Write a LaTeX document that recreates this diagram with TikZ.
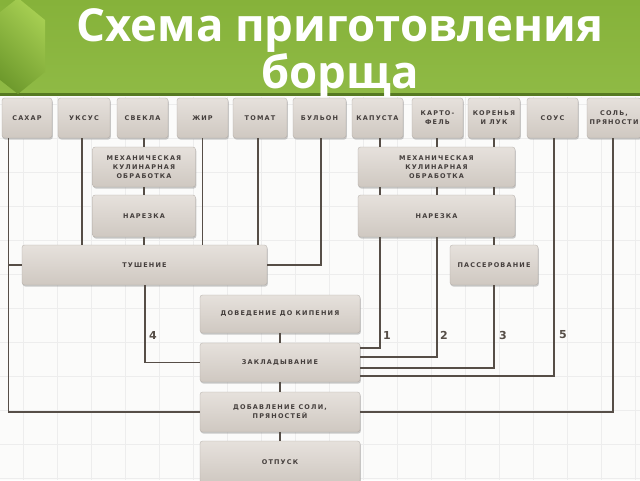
\documentclass[tikz,border=0pt]{standalone}
\usepackage{fontspec}
\usetikzlibrary{shadows,calc}
\newfontfamily\titlefont{Open Sans}
\newfontfamily\boxfont{DejaVu Sans}[LetterSpace=18]
\newfontfamily\numfont{DejaVu Sans}
\definecolor{ln}{HTML}{564E47}
\definecolor{txt}{HTML}{453F3D}
\definecolor{gridc}{HTML}{EDEDED}
\definecolor{bgc}{HTML}{FBFBFA}
\definecolor{bannerA}{HTML}{86B23A}
\definecolor{bannerB}{HTML}{8FBA45}
\definecolor{hexA}{HTML}{6C982B}
\definecolor{hexB}{HTML}{A6CE52}
\definecolor{boxT}{HTML}{E6E1DC}
\definecolor{boxM}{HTML}{F6F4F2}
\definecolor{boxB}{HTML}{CFC8C1}
\begin{document}
\begin{tikzpicture}[x=1pt,y=-1pt,
  box/.style={rounded corners=2.5pt, draw=boxB!85!black, line width=0.3pt,
    top color=boxT, middle color=boxM, bottom color=boxB,
    drop shadow={shadow xshift=0.8pt, shadow yshift=-1.5pt, fill=black!45, opacity=0.45},
    align=center, text=txt, inner sep=1pt,
    font=\boxfont\bfseries\fontsize{6.5}{9}\selectfont},
  conn/.style={draw=ln, line width=1.6pt},
  num/.style={text=ln, font=\numfont\bfseries\fontsize{11}{11}\selectfont}]
\useasboundingbox (0,0) rectangle (640,480);
\fill[bgc] (0,0) rectangle (640,480);
% grid
\foreach \x in {23,57,...,640} \draw[gridc, line width=0.8pt] (\x,97) -- (\x,480);
\foreach \y in {104,138,...,480} \draw[gridc, line width=0.8pt] (0,\y) -- (640,\y);
% banner
\shade[top color=bannerA, bottom color=bannerB] (0,0) rectangle (640,94);
\fill[hexA!80!black] (0,93) rectangle (640,96);
\begin{scope}
\clip (0,0) rectangle (640,93);
\shade[left color=hexA, right color=hexB, shading angle=135]
  (18,-2) -- (45,20) -- (45,72) -- (18,94) -- (-10,72) -- (-10,20) -- cycle;
\end{scope}
\node[font=\titlefont\bfseries\fontsize{45.5}{38}\selectfont, text=white, align=center, anchor=base, inner sep=0pt] (title) at (340,88) {Схема приготовления\\борща};
% top row
\node[box, minimum width=50, minimum height=40] (sahar) at (27,118) {САХАР};
\node[box, minimum width=52, minimum height=40] (uksus) at (84,118) {УКСУС};
\node[box, minimum width=51, minimum height=40] (svekla) at (142.5,118) {СВЕКЛА};
\node[box, minimum width=51, minimum height=40] (zhir) at (202.5,118) {ЖИР};
\node[box, minimum width=54, minimum height=40] (tomat) at (260,118) {ТОМАТ};
\node[box, minimum width=53, minimum height=40] (bulon) at (319.5,118) {БУЛЬОН};
\node[box, minimum width=51, minimum height=40] (kapusta) at (377.5,118) {КАПУСТА};
\node[box, minimum width=51, minimum height=40] (kartofel) at (437.5,118) {КАРТО-\\ФЕЛЬ};
\node[box, minimum width=52, minimum height=40] (koren) at (494,118) {КОРЕНЬЯ\\И ЛУК};
\node[box, minimum width=51, minimum height=40] (sous) at (552.5,118) {СОУС};
\node[box, minimum width=54, minimum height=40] (sol) at (614,118) {СОЛЬ,\\ПРЯНОСТИ};
% middle
\node[box, minimum width=103, minimum height=40] (mech1) at (144,167) {МЕХАНИЧЕСКАЯ\\КУЛИНАРНАЯ\\ОБРАБОТКА};
\node[box, minimum width=103, minimum height=42] (narez1) at (144,216) {НАРЕЗКА};
\node[box, minimum width=245, minimum height=40] (tush) at (144.5,265) {ТУШЕНИЕ};
\node[box, minimum width=157, minimum height=40] (mech2) at (436.5,167) {МЕХАНИЧЕСКАЯ\\КУЛИНАРНАЯ\\ОБРАБОТКА};
\node[box, minimum width=157, minimum height=42] (narez2) at (436.5,216) {НАРЕЗКА};
\node[box, minimum width=88, minimum height=40] (passer) at (494,265) {ПАССЕРОВАНИЕ};
% bottom column
\node[box, minimum width=160, minimum height=38] (doved) at (280,314) {ДОВЕДЕНИЕ ДО КИПЕНИЯ};
\node[box, minimum width=160, minimum height=39] (zaklad) at (280,362.5) {ЗАКЛАДЫВАНИЕ};
\node[box, minimum width=160, minimum height=40] (dobav) at (280,412) {ДОБАВЛЕНИЕ СОЛИ,\\ПРЯНОСТЕЙ};
\node[box, minimum width=160, minimum height=42] (otpusk) at (280,462) {ОТПУСК};
% connectors
\coordinate (xs) at (8.5,138);
\draw[conn] (xs) |- (dobav.west);
\draw[conn] (tush.west) -- (tush.west -| xs);
\draw[conn] (uksus.south -| 82,0) -- (tush.north -| 82,0);
\draw[conn] (mech1.north) -- (mech1.north |- svekla.south);
\draw[conn] (mech1.south) -- (narez1.north);
\draw[conn] (narez1.south) -- (narez1.south |- tush.north);
\draw[conn] (zhir.south) -- (zhir.south |- tush.north);
\draw[conn] (tomat.south -| 258,0) -- (tush.north -| 258,0);
\draw[conn] (bulon.south -| 321,0) |- (tush.east);
\draw[conn] (tush.south -| 145,0) |- (zaklad.west);
% right side
\foreach \n/\xx in {kapusta/380, kartofel/437, koren/494} {
  \draw[conn] (\n.south -| \xx,0) -- (mech2.north -| \xx,0);
  \draw[conn] (mech2.south -| \xx,0) -- (narez2.north -| \xx,0);
}
\draw[conn] (narez2.south -| 380,0) |- ($(zaklad.east)+(0,-14.5)$);
\draw[conn] (narez2.south -| 437,0) |- ($(zaklad.east)+(0,-5.5)$);
\draw[conn] (narez2.south -| 494,0) -- (passer.north -| 494,0);
\draw[conn] (passer.south -| 494,0) |- ($(zaklad.east)+(0,5.5)$);
\draw[conn] (sous.south -| 554,0) |- ($(zaklad.east)+(0,13.5)$);
\draw[conn] (sol.south -| 613,0) |- (dobav.east);
\draw[conn] (doved.south) -- (zaklad.north);
\draw[conn] (zaklad.south) -- (dobav.north);
\draw[conn] (dobav.south) -- (otpusk.north);
% labels
\node[num] (l4) at (153,335) {4};
\node[num] (l1) at (387,335) {1};
\node[num] (l2) at (444,335) {2};
\node[num] (l3) at (503,335) {3};
\node[num] (l5) at (563,335) {5};
\end{tikzpicture}
\end{document}
